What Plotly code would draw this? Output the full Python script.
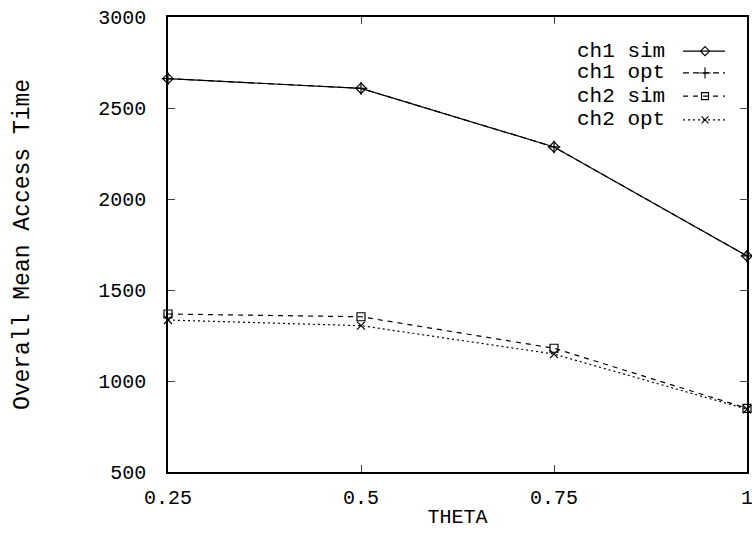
import plotly.graph_objects as go

theta = [0.25, 0.5, 0.75, 1.0]
ch1_sim = [2661, 2608, 2286, 1687]
ch1_opt = [2661, 2608, 2286, 1687]
ch2_sim = [1368, 1353, 1180, 850]
ch2_opt = [1335, 1304, 1148, 845]

series_names = ["ch1 sim", "ch1 opt", "ch2 sim", "ch2 opt"]
series_vals = [ch1_sim, ch1_opt, ch2_sim, ch2_opt]
dashes = ["solid", "6px,4px", "5px,5px", "2px,3px"]
symbols = ["diamond-open", "cross-thin-open", "square-open", "x-thin-open"]
sizes = [8, 9, 8, 8]

x_ticks = [0.25, 0.5, 0.75, 1.0]
x_ticktext = ["0.25", "0.5", "0.75", "1"]
y_ticks = [500, 1000, 1500, 2000, 2500, 3000]

FONT = "Liberation Mono, Courier New, monospace"

fig = go.Figure()
for name, vals, d, s, sz in zip(series_names, series_vals, dashes, symbols, sizes):
    fig.add_trace(go.Scatter(
        x=theta, y=vals, mode="lines+markers", name=name,
        line=dict(color="black", width=1.2, dash=d),
        marker=dict(symbol=s, size=sz, color="black", line=dict(color="black", width=1.2)),
        showlegend=False, cliponaxis=False,
    ))

# custom gnuplot-style legend (text then sample)
legend_rows = [0.925, 0.877, 0.826, 0.774]
sample_x = [0.8895, 0.962]
marker_x = 0.9275
text_x = 0.862
for name, d, s, sz, ry in zip(series_names, dashes, symbols, sizes, legend_rows):
    fig.add_trace(go.Scatter(
        x=sample_x, y=[ry, ry], mode="lines", xaxis="x2", yaxis="y2",
        line=dict(color="black", width=1.2, dash=d), showlegend=False, hoverinfo="skip",
    ))
    fig.add_trace(go.Scatter(
        x=[marker_x], y=[ry], mode="markers", xaxis="x2", yaxis="y2",
        marker=dict(symbol=s, size=sz - 1, color="black", line=dict(color="black", width=1.1)),
        showlegend=False, hoverinfo="skip",
    ))
    fig.add_annotation(x=text_x, y=ry, xref="x2", yref="y2", text=name, showarrow=False,
                       xanchor="right", yanchor="middle",
                       font=dict(family=FONT, size=21, color="black"))

axis_common = dict(
    showgrid=False, zeroline=False, showline=True, linecolor="black", linewidth=1.5,
    mirror="ticks", ticks="inside", ticklen=7, tickcolor="#444", tickwidth=1.2,
    tickfont=dict(family=FONT, size=20, color="black"), ticklabeloverflow="allow",
    automargin=False,
)

fig.update_layout(
    width=752, height=533,
    margin=dict(l=168, r=5, t=17, b=61),
    paper_bgcolor="white", plot_bgcolor="white",
    xaxis=dict(range=[0.25, 1.0], tickvals=x_ticks, ticktext=x_ticktext,
               title=dict(text="THETA", font=dict(family=FONT, size=20, color="black"), standoff=0),
               ticklabelstandoff=6, **axis_common),
    yaxis=dict(range=[500, 3000], tickvals=y_ticks,
               title=dict(text="Overall Mean Access Time", font=dict(family=FONT, size=23, color="black"), standoff=62),
               ticklabelstandoff=16, **axis_common),
    xaxis2=dict(range=[0, 1], overlaying="x", visible=False, fixedrange=True),
    yaxis2=dict(range=[0, 1], overlaying="y", visible=False, fixedrange=True),
)

# remove the default page margin so the 752x533 figure fills the window exactly
fig.write_html("out.html", config={"displayModeBar": False},
               post_script="document.body.style.margin='0';document.body.style.overflow='hidden';")
